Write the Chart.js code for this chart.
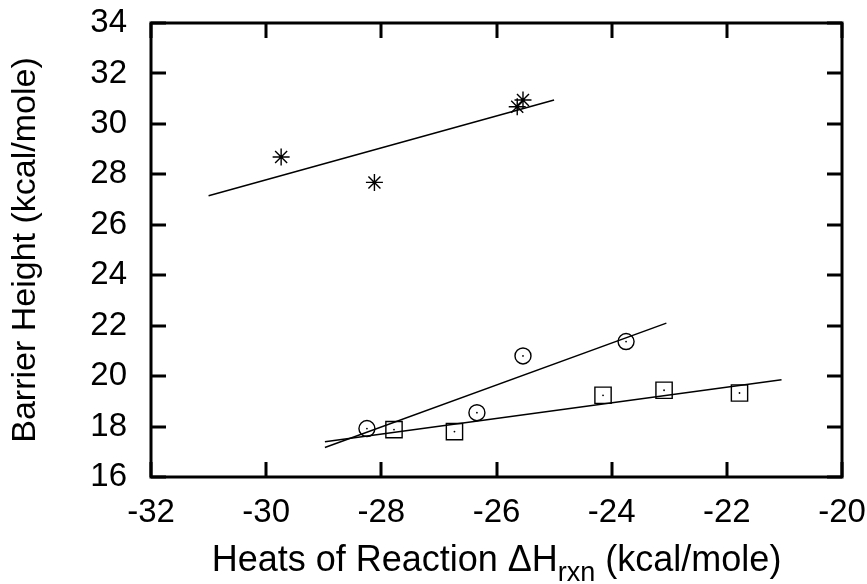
<!DOCTYPE html>
<html>
<head>
<meta charset="utf-8">
<script src="https://cdn.jsdelivr.net/npm/chart.js@4"></script>
<style>
  html, body { margin: 0; padding: 0; background: #fff; }
  #wrap { width: 867px; height: 584px; }
</style>
</head>
<body>
<div id="wrap"><canvas id="chart"></canvas></div>
<script>
// Tick labels
const xTicks = [-32, -30, -28, -26, -24, -22, -20];
const yTicks = [16, 18, 20, 22, 24, 26, 28, 30, 32, 34];

// Star series (upper group)
const starX = [-29.74, -28.12, -25.64, -25.54];
const starY = [28.69, 27.68, 30.68, 30.95];
const starFitX = [-31.0, -25.0];
const starFitY = [27.15, 30.95];

// Circle series
const circX = [-28.25, -26.34, -25.54, -23.75];
const circY = [17.92, 18.55, 20.8, 21.37];
const circFitX = [-28.98, -23.05];
const circFitY = [17.17, 22.1];

// Square series
const sqX = [-27.78, -26.73, -24.15, -23.09, -21.78];
const sqY = [17.88, 17.8, 19.24, 19.44, 19.33];
const sqFitX = [-28.98, -21.05];
const sqFitY = [17.4, 19.86];

const FONT = "'Liberation Sans', Arial, sans-serif";

function pts(xs, ys) {
    return xs.map((x, i) => ({ x: x, y: ys[i] }));
}

function fitLine(xs, ys) {
    return {
        data: pts(xs, ys),
        showLine: true,
        borderColor: '#000',
        borderWidth: 1.5,
        pointRadius: 0,
        fill: false
    };
}

function markers(xs, ys, style, r) {
    return {
        data: pts(xs, ys),
        showLine: false,
        pointStyle: style,
        pointRadius: r,
        pointHoverRadius: r,
        pointBorderColor: '#000',
        pointBackgroundColor: 'rgba(0,0,0,0)',
        pointBorderWidth: 1.4
    };
}

function dots(xs, ys) {
    return {
        data: pts(xs, ys),
        showLine: false,
        pointStyle: 'circle',
        pointRadius: 0.9,
        pointBorderWidth: 0,
        pointBackgroundColor: '#000'
    };
}

// frame, inward ticks on all four sides, x title with subscript
const framePlugin = {
    id: 'frame',
    afterDraw(chart) {
        const ctx = chart.ctx;
        const a = chart.chartArea;
        const xs = chart.scales.x, ys = chart.scales.y;
        const tl = 15;
        ctx.save();
        ctx.strokeStyle = '#000';
        ctx.lineWidth = 3;
        ctx.lineCap = 'butt';
        ctx.beginPath();
        xs.ticks.forEach(t => {
            const px = Math.round(xs.getPixelForValue(t.value));
            ctx.moveTo(px, a.bottom); ctx.lineTo(px, a.bottom - tl);
            ctx.moveTo(px, a.top); ctx.lineTo(px, a.top + tl);
        });
        ys.ticks.forEach(t => {
            const py = Math.round(ys.getPixelForValue(t.value));
            ctx.moveTo(a.left, py); ctx.lineTo(a.left + tl, py);
            ctx.moveTo(a.right, py); ctx.lineTo(a.right - tl, py);
        });
        ctx.stroke();
        ctx.strokeRect(a.left, a.top, a.right - a.left, a.bottom - a.top);

        // x axis title
        const size = 36, sub = 27;
        const parts = [
            { t: 'Heats of Reaction \u0394H', f: size + 'px ' + FONT, dy: 0 },
            { t: 'rxn', f: sub + 'px ' + FONT, dy: 10 },
            { t: ' (kcal/mole)', f: size + 'px ' + FONT, dy: 0 }
        ];
        let total = 0;
        parts.forEach(p => { ctx.font = p.f; p.w = ctx.measureText(p.t).width; total += p.w; });
        let x = (a.left + a.right) / 2 - total / 2;
        const base = 571;
        ctx.fillStyle = '#000';
        ctx.textAlign = 'left';
        ctx.textBaseline = 'alphabetic';
        parts.forEach(p => {
            ctx.font = p.f;
            ctx.fillText(p.t, x, base + p.dy);
            x += p.w;
        });
        ctx.restore();
    }
};

Chart.defaults.color = '#000';
Chart.defaults.font.family = FONT;

new Chart(document.getElementById('chart'), {
    type: 'scatter',
    data: {
        datasets: [
            fitLine(starFitX, starFitY),
            fitLine(circFitX, circFitY),
            fitLine(sqFitX, sqFitY),
            markers(starX, starY, 'star', 8.5),
            markers(circX, circY, 'circle', 8),
            markers(sqX, sqY, 'rect', 11.5),
            dots(circX, circY),
            dots(sqX, sqY)
        ]
    },
    options: {
        responsive: true,
        maintainAspectRatio: false,
        animation: false,
        events: [],
        layout: {
            autoPadding: false,
            padding: { top: 23, right: 25, left: 0, bottom: 0 }
        },
        plugins: {
            legend: { display: false },
            tooltip: { enabled: false }
        },
        scales: {
            x: {
                type: 'linear',
                min: -32,
                max: -20,
                grid: { display: false },
                border: { display: false },
                afterBuildTicks: s => { s.ticks = xTicks.map(v => ({ value: v })); },
                afterFit: s => { s.height = 107; s.paddingLeft = 0; s.paddingRight = 0; },
                ticks: {
                    font: { size: 33 },
                    padding: 8,
                    maxRotation: 0,
                    autoSkip: false
                }
            },
            y: {
                type: 'linear',
                min: 16,
                max: 34,
                grid: { display: false },
                border: { display: false },
                afterBuildTicks: s => { s.ticks = yTicks.map(v => ({ value: v })); },
                afterFit: s => { s.width = 151; s.paddingTop = 0; s.paddingBottom = 0; },
                ticks: {
                    font: { size: 33 },
                    padding: 16,
                    autoSkip: false
                },
                title: {
                    display: true,
                    text: 'Barrier Height (kcal/mole)',
                    font: { size: 34 },
                    padding: { top: 5, bottom: 0 }
                }
            }
        }
    },
    plugins: [framePlugin]
});
</script>
</body>
</html>
